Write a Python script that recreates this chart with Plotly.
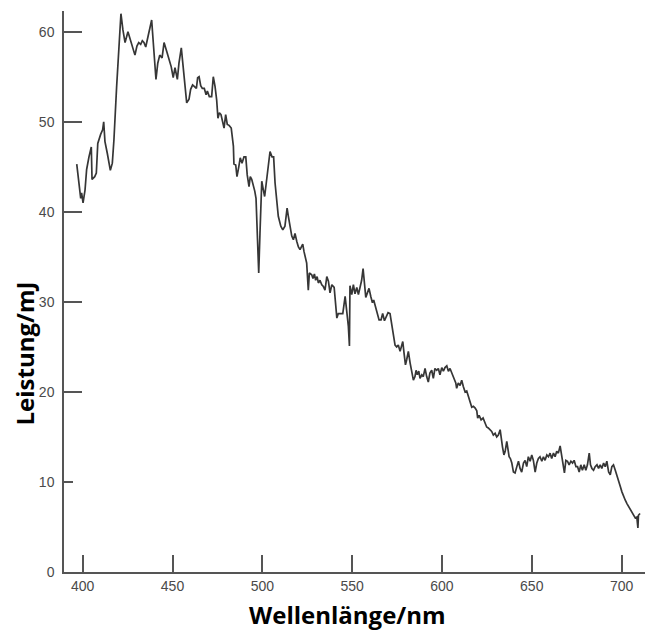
import plotly.graph_objects as go

wavelength_nm = [
    396.7, 398.3, 398.9, 399.4, 400.2, 401.3, 402.2, 403.5, 404.8, 405.2, 406.7, 407.6, 408.4, 410.0,
    411.1, 411.7, 412.4, 413.7, 415.4, 416.5, 417.4, 418.9, 420.2, 421.3, 422.4, 423.6, 425.2, 426.7,
    427.8, 429.1, 430.2, 431.2, 432.3, 433.2, 434.1, 435.1, 436.4, 437.5, 438.4, 439.3, 439.9, 440.8,
    441.8, 442.9, 444.2, 445.3, 446.8, 448.1, 449.3, 450.4, 451.4, 452.7, 453.6, 454.9, 456.0, 456.8,
    457.9, 459.2, 460.1, 461.2, 462.4, 463.3, 464.0, 464.8, 465.7, 466.6, 467.7, 468.7, 469.4, 470.5,
    471.8, 472.7, 473.7, 474.6, 475.3, 476.1, 477.0, 478.0, 478.7, 479.6, 480.5, 481.5, 482.7, 483.9,
    484.2, 485.2, 485.9, 486.9, 487.7, 488.7, 489.8, 490.8, 491.6, 492.6, 493.3, 494.1, 495.0, 495.8,
    496.5, 497.2, 498.0, 498.7, 499.7, 500.6, 501.3, 502.2, 503.3, 504.3, 505.4, 506.3, 507.1, 508.0,
    508.9, 510.3, 511.4, 512.6, 513.8, 514.5, 515.4, 516.4, 517.3, 518.2, 519.2, 520.1, 521.0, 521.7,
    522.5, 523.2, 524.2, 524.7, 525.6, 526.2, 527.5, 528.2, 529.0, 529.7, 530.5, 531.2, 532.1, 533.1,
    534.0, 534.9, 535.9, 536.8, 537.7, 538.7, 540.0, 540.5, 541.5, 542.3, 543.7, 544.8, 546.1, 547.0,
    547.9, 548.5, 548.8, 549.8, 550.7, 551.6, 552.6, 553.5, 554.4, 555.3, 556.1, 556.8, 557.6, 558.5,
    559.4, 560.4, 561.3, 562.0, 562.9, 564.1, 565.0, 566.1, 567.0, 568.0, 568.9, 570.0, 571.1, 572.0,
    573.0, 573.9, 574.8, 575.7, 576.7, 577.4, 578.2, 578.9, 579.7, 580.4, 581.3, 582.3, 583.2, 584.1,
    585.0, 585.6, 586.3, 587.1, 587.8, 588.8, 589.6, 590.6, 591.5, 592.4, 593.3, 594.3, 595.2, 596.1,
    597.1, 598.0, 598.9, 599.9, 600.8, 601.7, 602.7, 603.6, 604.5, 605.5, 606.7, 607.7, 608.2, 609.1,
    610.1, 611.0, 611.9, 612.9, 613.8, 614.7, 615.7, 616.6, 617.5, 618.5, 619.4, 619.9, 620.7, 621.8,
    622.9, 624.0, 624.9, 625.8, 626.8, 627.7, 628.6, 629.6, 630.5, 631.4, 632.4, 632.9, 633.7, 634.5,
    635.2, 636.1, 636.7, 637.4, 638.1, 638.9, 639.8, 640.7, 641.7, 642.6, 643.5, 644.4, 645.4, 646.3,
    647.2, 648.1, 649.1, 650.0, 650.9, 651.9, 652.8, 653.7, 654.6, 655.6, 656.5, 657.4, 658.4, 659.3,
    660.2, 661.1, 662.1, 663.0, 663.9, 664.8, 665.8, 666.7, 667.6, 668.2, 669.0, 669.9, 670.8, 671.8,
    672.7, 673.6, 674.6, 675.5, 676.4, 677.3, 678.2, 679.2, 680.1, 681.0, 682.0, 682.7, 683.5, 684.4,
    685.3, 686.3, 687.2, 688.1, 689.0, 690.0, 690.9, 691.8, 692.8, 693.7, 694.6, 695.5, 696.5, 697.4,
    698.3, 699.3, 700.2, 701.1, 702.0, 703.0, 703.9, 704.8, 705.7, 706.7, 707.6, 708.5, 709.1, 709.4,
    710.3,
]

leistung_mj = [
    45.3, 42.3, 41.5, 42.1, 41.0, 42.4, 44.7, 46.1, 47.2, 43.6, 43.9, 44.3, 47.6, 48.6,
    49.1, 50.0, 47.8, 46.5, 44.6, 45.4, 48.0, 53.9, 58.0, 62.0, 60.2, 58.8, 60.0, 59.1,
    58.4, 57.4, 58.4, 58.8, 58.6, 59.0, 58.8, 58.3, 59.5, 60.6, 61.3, 58.8, 56.7, 54.7,
    56.5, 57.4, 57.1, 58.8, 57.8, 56.9, 56.1, 54.9, 56.0, 54.7, 56.5, 58.2, 56.1, 53.9,
    52.1, 52.5, 53.6, 54.1, 53.9, 53.7, 54.9, 55.0, 54.0, 53.7, 53.7, 53.0, 53.4, 52.8,
    52.8, 55.0, 53.9, 52.4, 50.4, 51.0, 50.8, 50.0, 49.3, 50.8, 49.7, 49.6, 49.3, 47.3,
    45.3, 45.2, 43.9, 45.0, 46.0, 45.4, 46.1, 46.1, 44.1, 42.8, 43.9, 43.6, 43.0, 42.3,
    41.5, 38.0, 33.2, 37.6, 43.4, 42.4, 41.7, 43.2, 44.9, 46.7, 46.1, 46.1, 43.2, 41.3,
    39.5, 38.4, 38.0, 38.4, 40.4, 39.5, 38.4, 37.3, 36.9, 37.6, 36.7, 36.1, 35.8, 36.1,
    36.4, 35.6, 34.9, 34.3, 31.3, 33.2, 33.0, 32.6, 33.1, 32.4, 32.8, 32.1, 32.4, 31.9,
    31.7, 31.3, 32.8, 32.3, 31.0, 31.9, 31.6, 30.2, 28.2, 28.7, 28.7, 28.7, 30.6, 29.1,
    27.3, 25.1, 31.8, 30.8, 31.9, 30.9, 31.6, 30.8, 31.6, 32.4, 33.7, 31.9, 30.5, 31.0,
    31.5, 30.6, 29.9, 30.2, 29.5, 28.7, 28.0, 28.0, 28.7, 27.9, 28.4, 28.8, 28.7, 27.6,
    26.5, 25.2, 25.0, 25.2, 24.5, 25.0, 25.6, 24.3, 23.0, 23.6, 24.5, 23.2, 22.1, 21.3,
    21.7, 22.4, 21.9, 22.3, 21.5, 21.9, 21.7, 22.6, 21.7, 21.1, 22.1, 22.4, 21.5, 22.6,
    22.4, 22.6, 21.9, 22.7, 22.3, 22.7, 22.9, 22.3, 22.6, 22.1, 21.3, 21.0, 20.4, 21.0,
    20.7, 21.3, 20.6, 20.0, 20.1, 19.5, 18.7, 18.3, 18.4, 18.2, 17.9, 17.1, 17.4, 16.9,
    17.1, 16.5, 16.1, 16.0, 15.8, 15.6, 15.2, 15.4, 15.0, 15.2, 15.8, 14.9, 13.9, 13.0,
    13.4, 14.5, 13.7, 12.8, 12.6, 12.1, 11.1, 11.0, 11.7, 12.3, 11.5, 11.1, 12.1, 12.4,
    11.7, 12.8, 12.3, 13.0, 12.4, 11.1, 12.1, 12.6, 12.8, 12.3, 12.8, 12.4, 13.0, 12.8,
    13.2, 12.6, 13.2, 12.8, 13.4, 13.2, 14.0, 12.9, 11.3, 11.0, 12.4, 12.3, 11.9, 12.3,
    12.1, 12.4, 11.7, 11.7, 11.1, 11.9, 11.3, 11.9, 11.3, 11.9, 13.2, 11.9, 11.5, 11.3,
    11.7, 11.9, 11.5, 11.9, 11.5, 12.1, 11.7, 12.3, 11.1, 10.8, 11.7, 11.9, 11.3, 10.8,
    10.2, 9.5, 8.9, 8.4, 8.0, 7.6, 7.3, 6.9, 6.7, 6.3, 6.0, 6.1, 4.9, 6.3,
    6.5,
]

x_ticks = [400, 450, 500, 550, 600, 650, 700]
y_ticks = [0, 10, 20, 30, 40, 50, 60]
y_long_ticks = [20, 30, 40, 50, 60]
y_short_ticks = [10]

axis_col = "#555555"
label_col = "#4a4a4a"

fig = go.Figure()
fig.add_trace(go.Scatter(
    x=wavelength_nm, y=leistung_mj, mode="lines",
    line=dict(color="#363636", width=1.7),
    showlegend=False, hoverinfo="skip",
))
# invisible trace on second y-axis so its short tick renders
fig.add_trace(go.Scatter(x=[wavelength_nm[0]], y=[leistung_mj[0]], yaxis="y2",
                         mode="markers", marker=dict(opacity=0), showlegend=False,
                         hoverinfo="skip"))

# the page has an 8px body margin, so the figure is 8px smaller than the window
fig.update_layout(
    width=645, height=623,
    margin=dict(l=56, r=0, t=3, b=59),
    paper_bgcolor="white", plot_bgcolor="white",
    font=dict(family="Liberation Sans, Arial, sans-serif", size=14, color=label_col),
    xaxis=dict(
        range=[389.6, 717.5], showgrid=False, zeroline=False,
        showline=True, linecolor=axis_col, linewidth=1.5,
        tickmode="array", tickvals=x_ticks, ticktext=[str(v) for v in x_ticks],
        ticks="inside", ticklen=17, tickwidth=1.5, tickcolor=axis_col,
        tickfont=dict(size=14, color=label_col),
    ),
    yaxis=dict(
        range=[0, 62.3], showgrid=False, zeroline=False,
        showline=True, linecolor=axis_col, linewidth=1.5,
        tickmode="array", tickvals=y_ticks, ticktext=[str(v) for v in y_ticks],
        ticks="", tickfont=dict(size=14, color=label_col),
        ticklabelstandoff=5,
        minor=dict(tickmode="array", tickvals=y_long_ticks, ticks="inside",
                   ticklen=18, tickwidth=1.5, tickcolor=axis_col, showgrid=False),
    ),
    yaxis2=dict(
        range=[0, 62.3], overlaying="y", side="left", showgrid=False, zeroline=False,
        showline=False, showticklabels=False,
        tickmode="array", tickvals=y_short_ticks,
        ticks="inside", ticklen=9, tickwidth=1.5, tickcolor=axis_col,
    ),
    annotations=[
        dict(text="<b>Wellenlänge/nm</b>", xref="paper", yref="paper",
             x=0.4813, y=-0.0749, xanchor="center", yanchor="middle", showarrow=False,
             font=dict(family="Open Sans, sans-serif", size=24, color="#000000")),
        dict(text="<b>Leistung/mJ</b>", xref="paper", yref="paper",
             x=-0.0679, y=0.3895, xanchor="center", yanchor="middle", showarrow=False,
             textangle=-90,
             font=dict(family="Open Sans, sans-serif", size=24, color="#000000")),
    ],
)

fig.write_html("out.html")
